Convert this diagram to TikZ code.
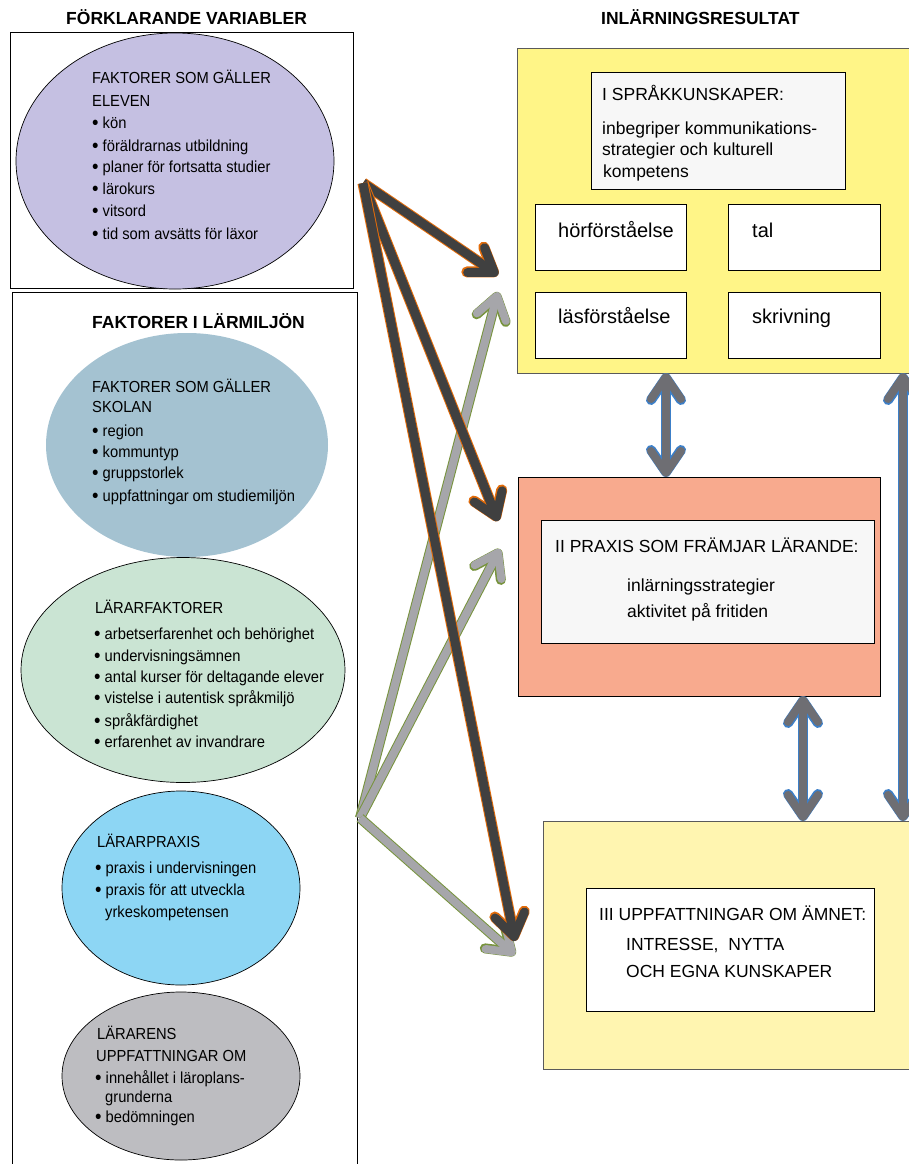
\documentclass[tikz,border=0pt]{standalone}
\usepackage{fontspec}
\setmainfont{Liberation Sans}
\newfontfamily\narrowfont{Liberation Sans}[FakeStretch=0.92]
\usetikzlibrary{shapes.geometric,arrows.meta}
\definecolor{lav}{RGB}{197,192,226}
\definecolor{bgrey}{RGB}{164,194,209}
\definecolor{lgreen}{RGB}{202,228,211}
\definecolor{lblue}{RGB}{141,214,244}
\definecolor{mgrey}{RGB}{189,189,193}
\definecolor{yel}{RGB}{255,245,135}
\definecolor{salmon}{RGB}{248,170,142}
\definecolor{pyel}{RGB}{255,245,176}
\definecolor{offw}{RGB}{247,247,247}
\definecolor{darkar}{RGB}{64,64,64}
\definecolor{orline}{RGB}{227,108,10}
\definecolor{grar}{RGB}{166,166,170}
\definecolor{grline}{RGB}{119,147,60}
\definecolor{var}{RGB}{110,110,115}
\definecolor{vline}{RGB}{60,127,200}
\definecolor{frame}{RGB}{90,90,90}
\newcommand\bul{\raisebox{-1.5pt}{\scalebox{1.25}{•}}\ }
\begin{document}
\begin{tikzpicture}[x=1pt,y=-1pt,
  box/.style={rectangle,anchor=north west,inner sep=0pt,outer sep=0pt,draw=black,line width=0.8pt},
  ell/.style={ellipse,inner sep=0pt,outer sep=0pt,draw=black,line width=0.7pt},
  body/.style={font=\narrowfont\fontsize{16}{19}\selectfont,anchor=base west,inner sep=0pt},
  rtext/.style={font=\fontsize{17.5}{21}\selectfont,anchor=base west,inner sep=0pt},
  btext/.style={font=\fontsize{20}{24}\selectfont,anchor=base west,inner sep=0pt},
  title/.style={font=\bfseries\fontsize{17.5}{21}\selectfont,anchor=base west,inner sep=0pt},
  darrow/.style={draw=darkar,line width=9pt,-{Straight Barb[round,length=22pt,width=30pt]},
     preaction={draw=orline,line width=11pt}},
  garrow/.style={draw=grar,line width=8pt,-{Straight Barb[round,length=22pt,width=30pt]},
     preaction={draw=grline,line width=10pt}},
  varrow/.style={draw=var,line width=8pt,{Straight Barb[round,length=22pt,width=30pt]}-{Straight Barb[round,length=22pt,width=30pt]},
     preaction={draw=vline,line width=10pt}}
]
\useasboundingbox (0,0) rectangle (908,1164);
\fill[white] (0,0) rectangle (908,1164);

% titles
\node[title] (t1) at (66,25) {FÖRKLARANDE VARIABLER};
\node[title] (t2) at (601,25) {INLÄRNINGSRESULTAT};

% left frames
\node[box,minimum width=343pt,minimum height=256pt] (lb1) at (10,32) {};
\node[box,minimum width=345pt,minimum height=890pt] (lb2) at (12,292) {};
\node[title] (t3) at (92,328) {FAKTORER I LÄRMILJÖN};

% ellipses
\node[ell,fill=lav,minimum width=318pt,minimum height=256pt] (e1) at (175,161) {};
\node[ell,draw=none,fill=bgrey,minimum width=282pt,minimum height=224pt] (e2) at (187,445) {};
\node[ell,fill=lgreen,minimum width=324pt,minimum height=225pt] (e3) at (183,670) {};
\node[ell,fill=lblue,minimum width=238pt,minimum height=194pt] (e4) at (181,888) {};
\node[ell,fill=mgrey,minimum width=238pt,minimum height=168pt] (e5) at (181,1076) {};

% ellipse texts
\foreach \x/\y/\t [count=\i] in {92/84/FAKTORER SOM GÄLLER, 92/106/ELEVEN,
   92/128/\bul kön, 92/151/\bul föräldrarnas utbildning, 92/172/\bul planer för fortsatta studier,
   92/194/\bul lärokurs, 92/216/\bul vitsord, 92/239/\bul tid som avsätts för läxor}
  \node[body] (e1t\i) at (\x,\y) {\t};
\foreach \x/\y/\t [count=\i] in {92/392/FAKTORER SOM GÄLLER, 92/412/SKOLAN,
   92/436/\bul region, 92/457/\bul kommuntyp, 92/478/\bul gruppstorlek,
   92/501/\bul uppfattningar om studiemiljön}
  \node[body] (e2t\i) at (\x,\y) {\t};
\foreach \x/\y/\t [count=\i] in {95/613/LÄRARFAKTORER,
   94/639/\bul arbetserfarenhet och behörighet, 94/661/\bul undervisningsämnen,
   94/682/\bul antal kurser för deltagande elever, 94/703/\bul vistelse i autentisk språkmiljö,
   94/726/\bul språkfärdighet, 94/747/\bul erfarenhet av invandrare}
  \node[body] (e3t\i) at (\x,\y) {\t};
\foreach \x/\y/\t [count=\i] in {97/847/LÄRARPRAXIS,
   95/873/\bul praxis i undervisningen, 95/895/\bul praxis för att utveckla,
   105/917/yrkeskompetensen}
  \node[body] (e4t\i) at (\x,\y) {\t};
\foreach \x/\y/\t [count=\i] in {97/1039/LÄRARENS, 96/1061/UPPFATTNINGAR OM,
   95/1083/\bul innehållet i läroplans-, 105/1102/grunderna, 95/1122/\bul bedömningen}
  \node[body] (e5t\i) at (\x,\y) {\t};

% right boxes
\node[box,draw=frame,fill=yel,minimum width=400pt,minimum height=325pt] (r1) at (517,48) {};
\node[box,fill=offw,minimum width=254pt,minimum height=117pt] (r1t) at (591,72) {};
\node[box,fill=white,minimum width=151pt,minimum height=66pt] (r1a) at (535,204) {};
\node[box,fill=white,minimum width=152pt,minimum height=66pt] (r1b) at (728,204) {};
\node[box,fill=white,minimum width=151pt,minimum height=66pt] (r1c) at (535,292) {};
\node[box,fill=white,minimum width=152pt,minimum height=66pt] (r1d) at (728,292) {};
\node[box,fill=salmon,minimum width=362pt,minimum height=219pt] (r2) at (518,477) {};
\node[box,fill=offw,minimum width=333pt,minimum height=123pt] (r2t) at (541,520) {};
\node[box,draw=frame,fill=pyel,minimum width=380pt,minimum height=248pt] (r3) at (543,821) {};
\node[box,fill=white,minimum width=288pt,minimum height=123pt] (r3t) at (586,888) {};

% right texts
\node[rtext] (x1) at (602,100) {I SPRÅKKUNSKAPER:};
\node[rtext] (x2) at (602,134) {inbegriper kommunikations-};
\node[rtext] (x3) at (602,155) {strategier och kulturell};
\node[rtext] (x4) at (603,177) {kompetens};
\node[btext] (xa) at (558,237) {hörförståelse};
\node[btext] (xb) at (752,237) {tal};
\node[btext] (xc) at (558,323) {läsförståelse};
\node[btext] (xd) at (752,323) {skrivning};
\node[rtext] (y1) at (555,552) {II PRAXIS SOM FRÄMJAR LÄRANDE:};
\node[rtext] (y2) at (627,591) {inlärningsstrategier};
\node[rtext] (y3) at (627,617) {aktivitet på fritiden};
\node[rtext] (z1) at (599,920) {III UPPFATTNINGAR OM ÄMNET:};
\node[rtext] (z2) at (626,950) {INTRESSE,\ \ NYTTA};
\node[rtext] (z3) at (626,977) {OCH EGNA KUNSKAPER};

% arrow coordinates
\coordinate (s1) at (363,183);
\coordinate (s2) at (360,818);
\coordinate (d1e) at (498,275);
\coordinate (d2e) at (498,521);
\coordinate (d3e) at (515,941);
\coordinate (g1e) at (498,292);
\coordinate (g2e) at (500,549);
\coordinate (g3e) at (515,955);

% gray arrows
\draw[garrow] (s2) -- (g1e);
\draw[garrow] (s2) -- (g2e);
\draw[garrow] (s2) -- (g3e);
% dark arrows
\draw[darrow] (s1) -- (d1e);
\draw[darrow] (s1) -- (d2e);
\draw[darrow] (s1) -- (d3e);

% vertical double arrows
\draw[varrow] (r1.south -| 666,0) -- (r2.north -| 666,0);
\draw[varrow] (r2.south -| 803,0) -- (r3.north -| 803,0);
\draw[varrow] (r1.south -| 903,0) -- (r3.north -| 903,0);
\end{tikzpicture}
\end{document}
